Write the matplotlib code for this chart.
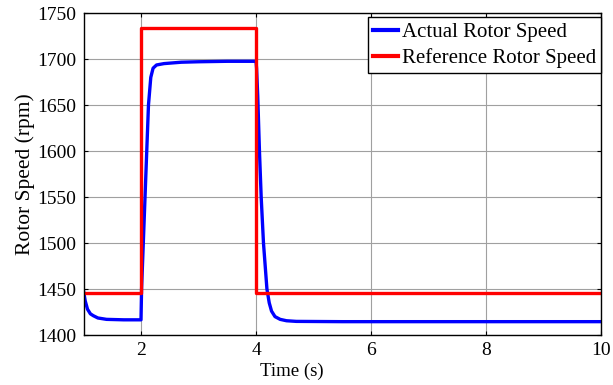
import matplotlib.pyplot as plt

# reference speed (step profile)
ref_t = [1.0, 2.0, 2.0, 4.0, 4.0, 10.0]
ref_speed = [1445.5, 1445.5, 1734, 1734, 1445.5, 1445.5]

# actual speed
act_t = [1.0, 1.03, 1.07, 1.12, 1.17, 1.25, 1.4, 1.7, 2.0,
         2.01, 2.04, 2.07, 2.1, 2.13, 2.17, 2.21, 2.27, 2.4, 2.7, 3.0, 3.5, 4.0,
         4.01, 4.03, 4.06, 4.09, 4.13, 4.19, 4.23, 4.27, 4.33, 4.42, 4.53, 4.7, 5.5, 10.0]
act_speed = [1448, 1437, 1428, 1423, 1421, 1418.5, 1417, 1416.5, 1416.5,
             1450, 1500, 1550, 1600, 1650, 1680, 1690, 1693.5, 1695, 1696.5, 1697, 1697.5, 1697.5,
             1690, 1660, 1600, 1550, 1500, 1450, 1435, 1426, 1420, 1417, 1415.5, 1414.8, 1414.5, 1414.5]

plt.rcParams['font.family'] = ['Liberation Serif', 'DejaVu Serif']

fig = plt.figure(figsize=(6.13, 3.85), dpi=100)
ax = fig.add_axes([83.5 / 613, (385 - 335) / 385, (601 - 83.5) / 613, (335 - 13) / 385])

ax.plot(act_t, act_speed, color='#0000ff', lw=2.4, label='Actual Rotor Speed')
ax.plot(ref_t, ref_speed, color='#ff0000', lw=2.4, label='Reference Rotor Speed')

ax.set_xlim(1, 10)
ax.set_ylim(1400, 1750)
ax.set_xticks([2, 4, 6, 8, 10])
ax.set_yticks(range(1400, 1751, 50))
ax.grid(True, color='#a0a0a0', lw=0.8)
ax.tick_params(direction='in', top=True, right=True, labelsize=14, length=3, pad=5)
ax.set_xlabel('Time (s)', fontsize=13.5, labelpad=1)
ax.xaxis.set_label_coords(0.403, -0.085)
ax.set_ylabel('Rotor Speed (rpm)', fontsize=15.5, labelpad=2)

leg = ax.legend(loc='upper right', bbox_to_anchor=(1.0, 1 - 4 / 322), fontsize=15, frameon=True,
                fancybox=False, handlelength=1.2, handletextpad=0.15, borderpad=0.25,
                labelspacing=0.3, borderaxespad=0.0)
leg.get_frame().set_edgecolor('black')
leg.get_frame().set_linewidth(1.0)
leg.get_frame().set_alpha(1)
for line in leg.get_lines():
    line.set_linewidth(3)

for s in ax.spines.values():
    s.set_linewidth(1.0)

fig.savefig('out.png', dpi=100)
